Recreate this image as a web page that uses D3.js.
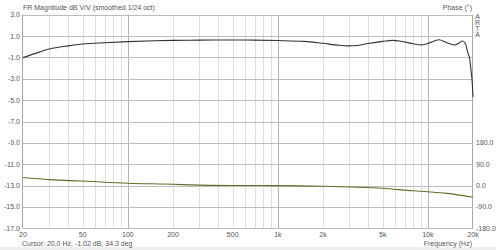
<!DOCTYPE html>
<html>
<head>
<meta charset="utf-8">
<script src="https://cdn.jsdelivr.net/npm/d3@7"></script>
<style>
  body { margin: 0; background: #fff; }
  svg { display: block; font-family: "Liberation Sans", Arial, sans-serif; }
  text { fill: #555; font-size: 7px; }
</style>
</head>
<body>
<svg id="chart" width="496" height="250"></svg>
<script>
// magnitude response (dB V/V)
const magFreq = [20, 25, 30, 40, 50, 70, 100, 150, 200, 300, 500, 700, 1000, 1500, 2000, 2500, 2950, 3400, 4000, 5000, 5850, 6600, 8000, 9000, 10000, 11900, 13200, 15100, 16200, 17000, 17800, 18500, 19000, 19400, 19800, 20000];
const magDb   = [-1.02, -0.55, -0.22, 0.08, 0.25, 0.38, 0.48, 0.56, 0.6, 0.62, 0.63, 0.62, 0.58, 0.5, 0.32, 0.15, 0.08, 0.12, 0.3, 0.5, 0.6, 0.52, 0.28, 0.16, 0.3, 0.66, 0.42, 0.16, 0.35, 0.54, 0.3, -0.6, -1.1, -2.2, -3.5, -4.7];

// phase (deg)
const phFreq = [20, 30, 50, 100, 200, 260, 500, 1000, 2000, 3000, 5000, 8000, 10000, 13400, 20000];
const phDeg  = [34.3, 25, 19, 10, 5.5, 3, 0.5, 0, -3, -6, -11, -22, -26, -33, -49];

const xTicks = [20, 50, 100, 200, 500, 1000, 2000, 5000, 10000, 20000];
const xTickLabels = ["20", "50", "100", "200", "500", "1k", "2k", "5k", "10k", "20k"];
const dbTicks = d3.range(3, -17.1, -2);
const phTicks = [-180, -90, 0, 90, 180];

const svg = d3.select("#chart");
const L = 23, R = 473, T = 14.7, B = 228.3;

const x = d3.scaleLog().domain([20, 20000]).range([L, R]);
const y = d3.scaleLinear().domain([-17, 3]).range([B, T]);
const yp = d3.scaleLinear().domain([-180, 180]).range([y(-17), y(-9)]);

// status strip at the bottom
svg.append("rect").attr("x", 0).attr("y", 247).attr("width", 496).attr("height", 3).attr("fill", "#efefef");

// minor/major vertical grid
let vlines = [];
[10, 100, 1000, 10000].forEach(d => {
    for (let k = 1; k < 10; k++) {
        let f = d * k;
        if (f > 20 && f < 20000) vlines.push({f: f, major: k === 1});
    }
});
svg.append("g").selectAll("line").data(vlines).join("line")
    .attr("x1", d => Math.round(x(d.f)) + 0.5).attr("x2", d => Math.round(x(d.f)) + 0.5)
    .attr("y1", T).attr("y2", B)
    .attr("stroke", d => d.major ? "#b4b4b4" : "#dedede").attr("stroke-width", 1);

// horizontal grid
svg.append("g").selectAll("line").data(dbTicks).join("line")
    .attr("x1", L).attr("x2", R)
    .attr("y1", d => Math.round(y(d)) + 0.5).attr("y2", d => Math.round(y(d)) + 0.5)
    .attr("stroke", "#bdbdbd");

// frame sides
svg.append("g").selectAll("line").data([L, R]).join("line")
    .attr("x1", d => Math.round(d) - 0.5).attr("x2", d => Math.round(d) - 0.5)
    .attr("y1", T).attr("y2", B).attr("stroke", "#a8a8a8");

// left labels
svg.append("g").selectAll("text").data(dbTicks).join("text")
    .attr("x", 20).attr("y", d => y(d) + 2.5).attr("text-anchor", "end")
    .text(d => d.toFixed(1));

// right phase labels
svg.append("g").selectAll("text").data(phTicks).join("text")
    .attr("x", 476).attr("y", d => yp(d) + 2.5)
    .text(d => d.toFixed(1));

// x labels
svg.append("g").selectAll("text").data(xTicks).join("text")
    .attr("x", d => x(d)).attr("y", 236.5).attr("text-anchor", "middle")
    .text((d, i) => xTickLabels[i]);

svg.append("text").attr("x", L).attr("y", 10).text("FR Magnitude dB V/V (smoothed 1/24 oct)");
svg.append("text").attr("x", R - 1).attr("y", 10).attr("text-anchor", "end").text("Phase (°)");
svg.append("text").attr("x", 22).attr("y", 246).text("Cursor: 20.0 Hz, -1.02 dB, 34.3 deg");
svg.append("text").attr("x", R - 1).attr("y", 245.5).attr("text-anchor", "end").text("Frequency (Hz)");

svg.append("g").selectAll("text").data("ARTA".split("")).join("text")
    .attr("x", 477.5).attr("y", (d, i) => 19 + i * 6).attr("text-anchor", "middle")
    .text(d => d);

// curves
const line = d3.line().curve(d3.curveMonotoneX);
const clip = svg.append("clipPath").attr("id", "pc").append("rect")
    .attr("x", L).attr("y", T).attr("width", R - L).attr("height", B - T);

svg.append("path")
    .attr("d", line(phFreq.map((f, i) => [x(f), yp(phDeg[i])])))
    .attr("fill", "none").attr("stroke", "#6a6a2c").attr("stroke-width", 1.1);

svg.append("path")
    .attr("d", line(magFreq.map((f, i) => [x(f), y(magDb[i])])))
    .attr("fill", "none").attr("stroke", "#333").attr("stroke-width", 1.1);
</script>
</body>
</html>
